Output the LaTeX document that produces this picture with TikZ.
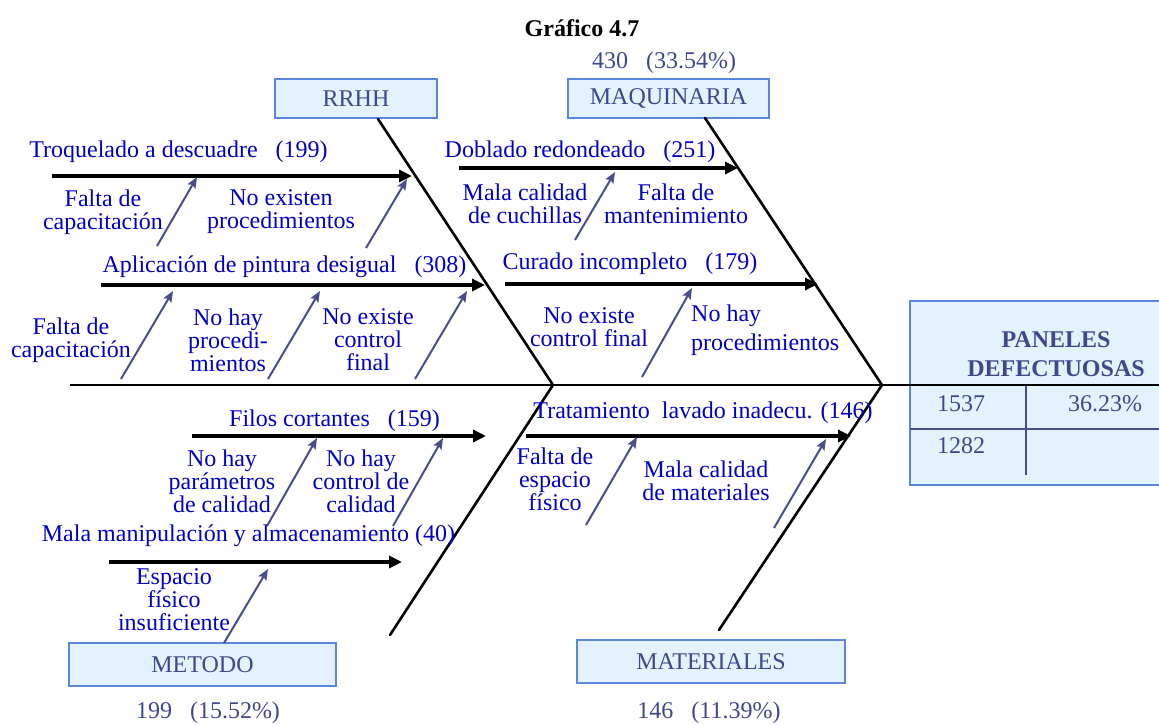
\documentclass[tikz,border=0pt]{standalone}
\usepackage{fontspec}
\setmainfont{Liberation Serif}
\usetikzlibrary{arrows.meta}

\definecolor{causeblue}{RGB}{0,0,200}
\definecolor{slate}{RGB}{62,72,140}
\definecolor{bonecol}{RGB}{72,78,140}
\definecolor{boxfill}{RGB}{227,242,253}
\definecolor{boxline}{RGB}{90,135,220}

\newcommand{\gap}{\hspace{18pt}}

\tikzset{
  txt/.style={inner sep=0pt, text=causeblue, font=\fontsize{24}{23}\selectfont, align=center},
  lbl/.style={inner sep=0pt, text=slate, font=\fontsize{24}{23}\selectfont, align=center},
  catbox/.style={draw=boxline, line width=1.2pt, fill=boxfill, text=slate,
                 font=\fontsize{24}{23}\selectfont, inner sep=0pt},
  spine/.style={line width=2.6pt, black},
  cause/.style={line width=3.6pt, black, -{Triangle[length=13pt,width=12pt]}},
  bone/.style={line width=2pt, bonecol, -{Stealth[length=11pt,width=9pt,inset=2pt]}}
}

\begin{document}
\begin{tikzpicture}[x=1pt, y=-1pt]
\useasboundingbox (0,0) rectangle (1159,725);

% heading and totals
\node[inner sep=0pt, font=\fontsize{24}{23}\selectfont\bfseries] (title) at (582,28) {Gráfico 4.7};
\node[lbl] (totmaq) at (664,63) {430\ \ \ (33.54\%)};
\node[lbl] (totmet) at (208,713) {199\ \ \ (15.52\%)};
\node[lbl] (totmat) at (709,713) {146\ \ \ (11.39\%)};

% effect table
\fill[boxfill] (910,301) rectangle (1170,485);
\draw[boxline, line width=1.2pt] (1170,301) -- (910,301) -- (910,485) -- (1170,485);
\draw[bonecol, line width=1.2pt] (910,429) -- (1170,429);
\draw[bonecol, line width=1.2pt] (1026,386) -- (1026,475);
\node[lbl, font=\fontsize{24}{29}\selectfont\bfseries] (effect) at (1056,354) {PANELES\\DEFECTUOSAS};
\node[lbl] (v1) at (961,404) {1537};
\node[lbl] (v2) at (1105,404) {36.23\%};
\node[lbl] (v3) at (961,446) {1282};

% category boxes
\node[catbox, minimum width=162pt, minimum height=39pt] (rrhh) at (356,98.5) {RRHH};
\node[catbox, minimum width=201pt, minimum height=39pt] (maq) at (668.5,98.5) {MAQUINARIA};
\node[catbox, minimum width=267pt, minimum height=43pt] (met) at (202.5,664.5) {METODO};
\node[catbox, minimum width=268pt, minimum height=43pt] (mat) at (711,661.5) {MATERIALES};

% backbone and main ribs
\coordinate (j1) at (553,385);
\coordinate (j2) at (882,385);
\coordinate (tail) at (70,385);
\coordinate (head) at (1170,385);
\coordinate (r1) at (378,119);
\coordinate (r2) at (705,118);
\coordinate (r3) at (390,635);
\coordinate (r4) at (719,630);
\draw[spine] (tail) -- (head);
\draw[spine, line cap=round] (r1) -- (j1) -- (r3);
\draw[spine, line cap=round] (r2) -- (j2) -- (r4);

% ---- RRHH ----
\node[txt] (c1) at (178.5,152) {Troquelado a descuadre\gap(199)};
\coordinate (c1a) at (52,176); \coordinate (c1b) at (412,176);
\draw[cause] (c1a) -- (c1b);
\coordinate (b1a) at (157,246); \coordinate (b1b) at (197,177);
\draw[bone] (b1a) -- (b1b);
\coordinate (b2a) at (366,248); \coordinate (b2b) at (407,179);
\draw[bone] (b2a) -- (b2b);
\node[txt] (s1) at (103,212) {Falta de\\capacitación};
\node[txt] (s2) at (281,212) {No existen\\procedimientos};

\node[txt] (c2) at (284.5,267) {Aplicación de pintura desigual\gap(308)};
\coordinate (c2a) at (101,285); \coordinate (c2b) at (485,285);
\draw[cause] (c2a) -- (c2b);
\coordinate (b3a) at (121,379); \coordinate (b3b) at (173,291);
\draw[bone] (b3a) -- (b3b);
\coordinate (b4a) at (268,379); \coordinate (b4b) at (320,291);
\draw[bone] (b4a) -- (b4b);
\coordinate (b5a) at (415,379); \coordinate (b5b) at (467,291);
\draw[bone] (b5a) -- (b5b);
\node[txt] (s3) at (71,340) {Falta de\\capacitación};
\node[txt] (s4) at (228,340) {No hay\\procedi-\\mientos};
\node[txt] (s5) at (368,340) {No existe\\control\\final};

% ---- MAQUINARIA ----
\node[txt] (c3) at (580,152) {Doblado redondeado\gap(251)};
\coordinate (c3a) at (459,168); \coordinate (c3b) at (738,168);
\draw[cause] (c3a) -- (c3b);
\coordinate (b6a) at (575,240); \coordinate (b6b) at (615,172);
\draw[bone] (b6a) -- (b6b);
\node[txt] (s6) at (525,204) {Mala calidad\\de cuchillas};
\node[txt] (s7) at (676,204) {Falta de\\mantenimiento};

\node[txt] (c4) at (630,264) {Curado incompleto\gap(179)};
\coordinate (c4a) at (505,284); \coordinate (c4b) at (818,284);
\draw[cause] (c4a) -- (c4b);
\coordinate (b7a) at (642,377); \coordinate (b7b) at (692,288);
\draw[bone] (b7a) -- (b7b);
\node[txt] (s8) at (589,327) {No existe\\control final};
\node[txt, anchor=west] (s9) at (691,316) {No hay};
\node[txt, anchor=west] (s10) at (691,345) {procedimientos};

% ---- METODO ----
\node[txt] (c5) at (334.5,421) {Filos cortantes\gap(159)};
\coordinate (c5a) at (192,436); \coordinate (c5b) at (486,436);
\draw[cause] (c5a) -- (c5b);
\coordinate (b8a) at (267,526); \coordinate (b8b) at (317,438);
\draw[bone] (b8a) -- (b8b);
\coordinate (b9a) at (393,526); \coordinate (b9b) at (443,438);
\draw[bone] (b9a) -- (b9b);
\node[txt] (s11) at (222,481) {No hay\\parámetros\\de calidad};
\node[txt] (s12) at (361,481) {No hay\\control de\\calidad};

\node[txt] (c6) at (248.5,536) {Mala manipulación y almacenamiento (40)};
\coordinate (c6a) at (109,562); \coordinate (c6b) at (402,562);
\draw[cause] (c6a) -- (c6b);
\coordinate (b10a) at (224,643); \coordinate (b10b) at (268,569);
\draw[bone] (b10a) -- (b10b);
\node[txt] (s13) at (174,600) {Espacio\\físico\\insuficiente};

% ---- MATERIALES ----
\node[txt] (c7) at (703,413) {Tratamiento\ \ lavado inadecu. (146)};
\coordinate (c7a) at (526,436); \coordinate (c7b) at (851,436);
\draw[cause] (c7a) -- (c7b);
\coordinate (b11a) at (586,525); \coordinate (b11b) at (637,437);
\draw[bone] (b11a) -- (b11b);
\coordinate (b12a) at (774,528); \coordinate (b12b) at (826,439);
\draw[bone] (b12a) -- (b12b);
\node[txt] (s14) at (555,479) {Falta de\\espacio\\físico};
\node[txt] (s15) at (706,481) {Mala calidad\\de materiales};

\end{tikzpicture}
\end{document}
